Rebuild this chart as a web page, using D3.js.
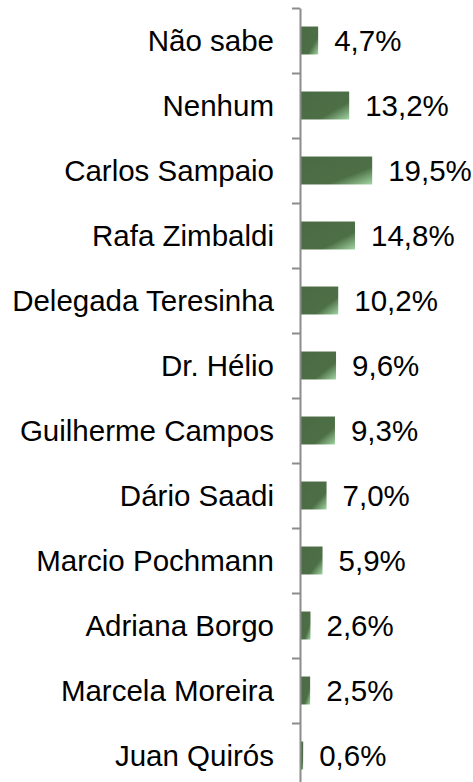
<!DOCTYPE html>
<html>
<head>
<meta charset="utf-8">
<script src="https://cdn.jsdelivr.net/npm/d3@7"></script>
<style>
  body { margin: 0; background: #fff; }
  text { font-family: "Liberation Sans", Arial, sans-serif; fill: #000; }
</style>
</head>
<body>
<div id="bar-chart"></div>
<script>
/* Horizontal bar chart of voting intention */

const candidates = ["Não sabe", "Nenhum", "Carlos Sampaio", "Rafa Zimbaldi", "Delegada Teresinha",
    "Dr. Hélio", "Guilherme Campos", "Dário Saadi", "Marcio Pochmann", "Adriana Borgo",
    "Marcela Moreira", "Juan Quirós"];
const percents = [4.7, 13.2, 19.5, 14.8, 10.2, 9.6, 9.3, 7.0, 5.9, 2.6, 2.5, 0.6];

const data = candidates.map((c, i) => ({ name: c, num: percents[i] }));

const height = 782,
      width = 473,
      margin = ({ top: 8, right: 0, bottom: -6, left: 300 });

let svg = d3.select("#bar-chart")
    .append("svg")
    .attr("width", width)
    .attr("height", height)
    .attr("viewBox", [0, 0, width, height]);

const grad = svg.append("defs").append("linearGradient")
    .attr("id", "barfill")
    .attr("x1", 0).attr("y1", 0)
    .attr("x2", 1).attr("y2", 1);
grad.append("stop").attr("offset", 0).attr("stop-color", "#4a6a43");
grad.append("stop").attr("offset", 0.68).attr("stop-color", "#4d6f46");
grad.append("stop").attr("offset", 1).attr("stop-color", "#a3d6a3");

const x = d3.scaleLinear()
    .domain([0, 20])
    .range([margin.left + 1, margin.left + 74]);

const y = d3.scaleBand()
    .domain(data.map(d => d.name))
    .range([margin.top, height - margin.bottom])
    .paddingInner(0.57)
    .paddingOuter(0.285);

// ticks sit on the borders between categories
const yTicks = d3.scaleLinear()
    .domain([0, data.length])
    .range([margin.top, height - margin.bottom]);

let bar = svg.selectAll(".bar")
    .data(data)
    .join("g")
    .attr("class", "bar");

bar.append("rect")
    .attr("fill", "url(#barfill)")
    .attr("x", x(0))
    .attr("y", d => y(d.name))
    .attr("width", d => x(d.num) - x(0))
    .attr("height", y.bandwidth());

bar.append("text")
    .text(d => d3.format(".1f")(d.num).replace(".", ",") + "%")
    .attr("x", d => x(d.num) + 16)
    .attr("y", d => y(d.name) + y.bandwidth() / 2)
    .attr("dy", "0.36em")
    .style("font-size", "29.5px");

svg.append("g")
    .selectAll("text")
    .data(data)
    .join("text")
    .text(d => d.name)
    .attr("x", margin.left - 26)
    .attr("y", d => y(d.name) + y.bandwidth() / 2)
    .attr("dy", "0.36em")
    .attr("text-anchor", "end")
    .style("font-size", "29.5px");

const yAxis = g => g
    .attr("transform", `translate(${margin.left}, 0)`)
    .call(d3.axisLeft(yTicks)
        .tickValues(d3.range(data.length + 1))
        .tickFormat("")
        .tickSize(8)
        .tickSizeOuter(0))
    .call(g => g.selectAll("line, path").attr("stroke", "#8c8c8c").attr("stroke-width", 2));

svg.append("g")
    .call(yAxis);
</script>
</body>
</html>
